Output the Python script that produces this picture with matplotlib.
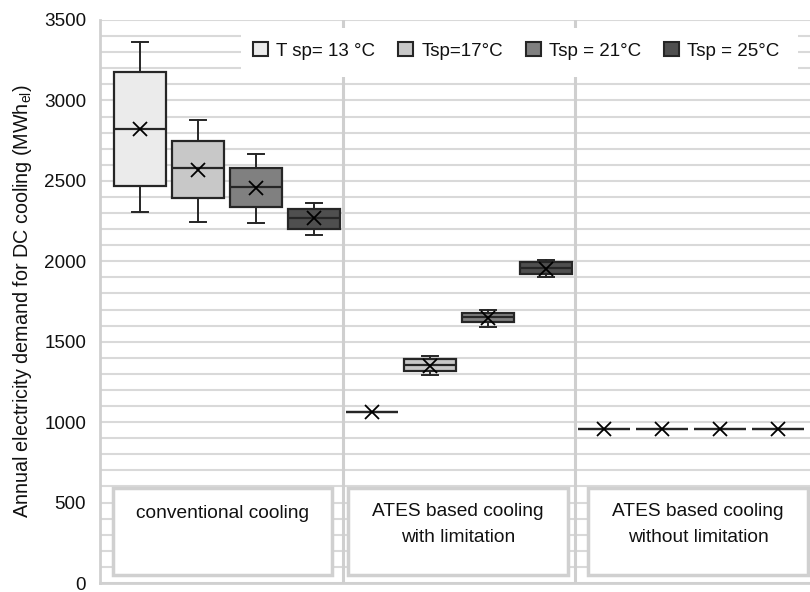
import matplotlib
matplotlib.use('Agg')
import matplotlib.pyplot as plt
from matplotlib.patches import Rectangle

plt.rcParams['font.family'] = ['Liberation Sans', 'DejaVu Sans']

# values (MWh_el)
series = ['T sp= 13 °C', 'Tsp=17°C', 'Tsp = 21°C', 'Tsp = 25°C']
groups = ['conventional cooling', 'ATES based cooling\nwith limitation', 'ATES based cooling\nwithout limitation']
colors = ['#ebebeb', '#c8c8c8', '#808080', '#4f4f4f']

# one entry per box, group by group, series order inside each group
whis_lo = [2306, 2242, 2236, 2163, 1063, 1293, 1593, 1900, 955, 955, 955, 955]
q1 = [2467, 2395, 2339, 2202, 1063, 1320, 1622, 1922, 955, 955, 955, 955]
median = [2822, 2577, 2463, 2270, 1063, 1355, 1651, 1958, 955, 955, 955, 955]
q3 = [3176, 2747, 2581, 2323, 1063, 1392, 1680, 1993, 955, 955, 955, 955]
whis_hi = [3362, 2878, 2668, 2364, 1063, 1409, 1697, 2007, 955, 955, 955, 955]
means = [2820, 2567, 2457, 2267, 1063, 1350, 1648, 1955, 955, 955, 955, 955]

fig = plt.figure(figsize=(8.1, 5.92), dpi=100)
ax = fig.add_axes([100 / 810, 9 / 592, 710 / 810, 563 / 592])

grid_c = '#d9d9d9'
edge_c = '#262626'
text_c = '#111111'

stats = []
for i in range(len(median)):
    stats.append(dict(med=median[i], q1=q1[i], q3=q3[i], whislo=whis_lo[i],
                      whishi=whis_hi[i], mean=means[i]))

pos = list(range(len(stats)))
bp = ax.bxp(stats, positions=pos, widths=0.9, patch_artist=True, showmeans=True,
            showfliers=False,
            boxprops=dict(edgecolor=edge_c, linewidth=1.6),
            medianprops=dict(color=edge_c, linewidth=1.6),
            whiskerprops=dict(color=edge_c, linewidth=1.4),
            capprops=dict(color=edge_c, linewidth=1.4),
            meanprops=dict(marker='x', markeredgecolor='black', markersize=10,
                           markeredgewidth=1.3),
            manage_ticks=False, zorder=3)
for i, box in enumerate(bp['boxes']):
    box.set_facecolor(colors[i % 4])
for cap in bp['caps']:
    x0, x1 = cap.get_xdata()
    c = (x0 + x1) / 2
    cap.set_xdata([c - 0.14, c + 0.14])

ax.set_xlim(-0.69, 11.55)
ax.set_ylim(0, 3500)
ax.set_yticks(range(0, 3501, 500))
ax.set_yticks(range(0, 3501, 100), minor=True)
ax.set_xticks([])
ax.grid(True, axis='y', which='both', color=grid_c, linewidth=1.5, zorder=0)
ax.set_axisbelow(True)
ax.tick_params(axis='y', which='both', length=0, pad=10, labelsize=13.6, labelcolor=text_c)

for side in ['top', 'right']:
    ax.spines[side].set_visible(False)
for side in ['left', 'bottom']:
    ax.spines[side].set_color('#d0d0d0')
    ax.spines[side].set_linewidth(2)

# group separators
for xs in [3.5, 7.5]:
    ax.axvline(xs, color='#cfcfcf', linewidth=2.2, zorder=1)

# category label boxes
label_box = [(-0.47, 3.31), (3.59, 7.38), (7.72, 11.52)]
label_y = [435, 364, 364]
for (x0, x1), name, ty in zip(label_box, groups, label_y):
    ax.add_patch(Rectangle((x0, 50), x1 - x0, 540, facecolor='white',
                           edgecolor='#d0d0d0', linewidth=2.5, zorder=2))
    ax.text((x0 + x1) / 2, ty, name, ha='center', va='center', fontsize=13.8,
            color=text_c, linespacing=1.75, zorder=4)

ax.set_ylabel('Annual electricity demand for DC cooling (MWh$_{\\mathregular{el}}$)',
              fontsize=14.2, color=text_c, labelpad=7)

# white area behind the legend, wider than the entries (as in the original)
ax.add_patch(Rectangle((141 / 710, 1 - 57 / 563), 557 / 710, 49 / 563,
                       transform=ax.transAxes, facecolor='white', edgecolor='none',
                       zorder=4))
handles = [Rectangle((0, 0), 1, 1, facecolor=colors[k], edgecolor=edge_c, linewidth=1.5)
           for k in range(4)]
leg = ax.legend(handles, series, ncol=4, loc='center left',
                bbox_to_anchor=(153 / 710, 1 - 30.7 / 563), fontsize=13.5, frameon=False,
                handlelength=0.8, handleheight=0.8, handletextpad=0.45,
                columnspacing=1.2, borderpad=0, borderaxespad=0, labelcolor=text_c)
leg.set_zorder(5)

fig.savefig('out.png', dpi=100)
